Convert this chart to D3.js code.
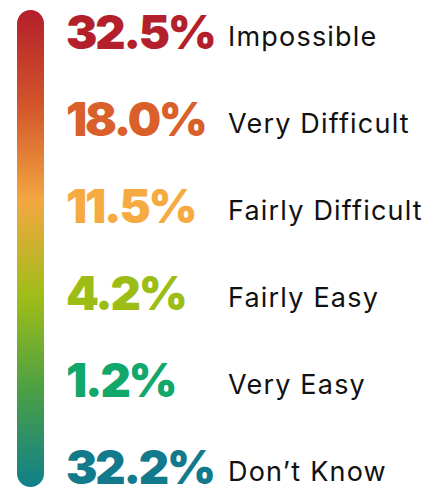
<!DOCTYPE html>
<html>
<head>
<meta charset="utf-8">
<script src="https://cdn.jsdelivr.net/npm/d3@7"></script>
<style>
  html, body { margin: 0; padding: 0; background: #fff; }
  .pct { font-family: Inter, "DejaVu Sans", sans-serif; font-weight: 900; letter-spacing: -2.2px; }
  .lbl { font-family: Inter, "Open Sans", sans-serif; font-weight: 400; fill: #111; letter-spacing: 1.2px; }
</style>
</head>
<body>
<script>
const width = 438, height = 488

const categories = ['Impossible', 'Very Difficult', 'Fairly Difficult', 'Fairly Easy', 'Very Easy', 'Don\u2019t Know']
const values = [32.5, 18.0, 11.5, 4.2, 1.2, 32.2]
const colors = ['#b31f2b', '#d9602a', '#f5aa42', '#9bbd15', '#12a86b', '#137a8c']
const gradientStops = ['#b51f2b', '#d2552a', '#f3a741', '#a0bd18', '#4a9f45', '#10808b']

const svg = d3.select('body').append('svg')
  .attr('width', width)
  .attr('height', height)

const defs = svg.append('defs')
const grad = defs.append('linearGradient')
  .attr('id', 'bar-grad')
  .attr('x1', 0).attr('y1', 0).attr('x2', 0).attr('y2', 1)
grad.selectAll('stop')
  .data(gradientStops)
  .join('stop')
  .attr('offset', (d, i) => i / (gradientStops.length - 1))
  .attr('stop-color', d => d)

// rounded thermometer bar
svg.append('rect')
  .attr('x', 17).attr('y', 10)
  .attr('width', 27).attr('height', 477)
  .attr('rx', 13.5)
  .attr('fill', 'url(#bar-grad)')

// baseline of each row
const y = d3.scalePoint()
  .domain(categories)
  .range([49, 484])

const rows = svg.append('g').selectAll('g')
  .data(categories)
  .join('g')
  .attr('transform', d => `translate(0,${y(d)})`)

rows.append('text')
  .classed('pct', true)
  .attr('x', 66)
  .attr('font-size', 47)
  .attr('fill', (d, i) => colors[i])
  .text((d, i) => values[i].toFixed(1) + '%')

rows.append('text')
  .classed('lbl', true)
  .attr('x', 228)
  .attr('y', -3)
  .attr('font-size', 27)
  .text(d => d)
</script>
</body>
</html>
